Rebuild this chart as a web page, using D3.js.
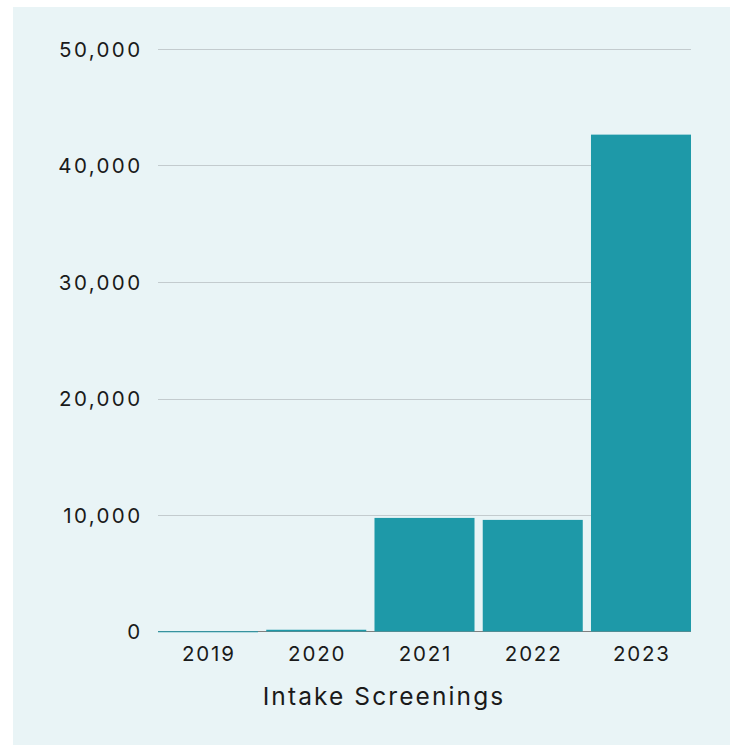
<!DOCTYPE html>
<html><head><meta charset="utf-8">
<script src="https://cdn.jsdelivr.net/npm/d3@7"></script>
<style>
html,body{margin:0;padding:0;background:#fff;}
svg{display:block;}
text{font-family:"Inter","Noto Sans",sans-serif;}
</style></head>
<body><svg id="c" width="730" height="745"></svg>
<script>
const years = ["2019","2020","2021","2022","2023"];
const screenings = [20, 150, 9750, 9580, 42650];
const yTicks = [0, 10000, 20000, 30000, 40000, 50000];
const axisTitle = "Intake Screenings";

const svg = d3.select("#c");
svg.append("rect").attr("x",13).attr("y",7).attr("width",717).attr("height",738).attr("fill","#e9f4f6");

const x = d3.scaleBand().domain(years).range([158,691]).paddingInner(0.076).paddingOuter(0);
const y = d3.scaleLinear().domain([0,50000]).range([631.5,49]);

const grid = svg.append("g");
grid.selectAll("line").data(yTicks.filter(d=>d>0)).join("line")
  .attr("x1",158).attr("x2",691).attr("y1",d=>Math.round(y(d))+0.5).attr("y2",d=>Math.round(y(d))+0.5)
  .attr("stroke","#c3cbce").attr("stroke-width",1);

svg.append("line").attr("x1",158).attr("x2",691).attr("y1",631.5).attr("y2",631.5)
  .attr("stroke","#808080").attr("stroke-width",1);

svg.append("g").selectAll("rect").data(years).join("rect")
  .attr("x",d=>x(d)).attr("width",x.bandwidth())
  .attr("y",(d,i)=>y(screenings[i])).attr("height",(d,i)=>Math.max(1,y(0)-y(screenings[i])))
  .attr("fill","#1e99a8");

const yAxis = svg.append("g").attr("transform","translate(142.5,0)")
  .call(d3.axisLeft(y).tickValues(yTicks).tickFormat(d3.format(",")).tickSize(0).tickPadding(0));
yAxis.select(".domain").remove();
yAxis.selectAll("text").attr("font-size",20.5).attr("fill","#1a1a1a").attr("dy","0.35em")
  .style("letter-spacing","2.4px")
  .style("font-family",'"Inter","Noto Sans",sans-serif');

const xAxis = svg.append("g").attr("transform","translate(0.9,631.5)")
  .call(d3.axisBottom(x).tickSize(0).tickPadding(0));
xAxis.select(".domain").remove();
xAxis.selectAll("text").attr("font-size",20.5).attr("fill","#1a1a1a").attr("y",22).attr("dy","0.35em")
  .style("letter-spacing","1.8px")
  .style("font-family",'"Inter","Noto Sans",sans-serif');

svg.append("text").attr("x",384).attr("y",696).attr("dy","0.35em").attr("text-anchor","middle")
  .attr("font-size",24.5).attr("fill","#1a1a1a").style("letter-spacing","2.1px").text(axisTitle);
</script></body></html>
